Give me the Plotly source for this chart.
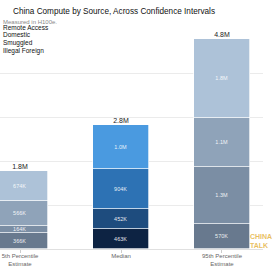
import plotly.graph_objects as go

categories = ["5th Percentile<br>Estimate", "Median", "95th Percentile<br>Estimate"]
series_names = ["Illegal Foreign", "Smuggled", "Domestic", "Remote Access"]
illegal_foreign = [366e3, 463e3, 570e3]
smuggled = [164e3, 452e3, 1.3e6]
domestic = [566e3, 904e3, 1.1e6]
remote_access = [674e3, 1.0e6, 1.8e6]
illegal_foreign_lbl = ["366K", "463K", "570K"]
smuggled_lbl = ["164K", "452K", "1.3M"]
domestic_lbl = ["566K", "904K", "1.1M"]
remote_access_lbl = ["674K", "1.0M", "1.8M"]
total_lbl = ["1.8M", "2.8M", "4.8M"]
legend_title = "Measured in H100e."
legend_items = ["Remote Access", "Domestic", "Smuggled", "Illegal Foreign"]

values = [illegal_foreign, smuggled, domestic, remote_access]
labels = [illegal_foreign_lbl, smuggled_lbl, domestic_lbl, remote_access_lbl]
gray_cols = ["#68798e", "#7b8ea4", "#8fa3b9", "#adc2d8"]
blue_cols = ["#0d2343", "#1e4c7e", "#2d72b4", "#4a9ae0"]

x = list(range(len(categories)))
fig = go.Figure()
for i, name in enumerate(series_names):
    cols = [gray_cols[i], blue_cols[i], gray_cols[i]]
    fig.add_trace(go.Bar(
        x=x, y=values[i], name=name, width=0.55,
        marker=dict(color=cols, line=dict(color="white", width=0.7)),
        text=labels[i], textposition="inside", insidetextanchor="middle",
        textfont=dict(color="rgba(255,255,255,0.9)", size=5.5, family="Liberation Sans"),
        constraintext="none", showlegend=False, hoverinfo="skip",
    ))

totals = [sum(v[j] for v in values) for j in range(len(categories))]
fig.add_trace(go.Scatter(
    x=x, y=totals, mode="text", text=total_lbl, textposition="top center",
    textfont=dict(color="#222222", size=7, family="Liberation Sans"),
    showlegend=False, hoverinfo="skip",
))

ann = [dict(text=legend_title, xref="paper", yref="paper", x=1/263, y=1 + 7/220,
            xanchor="left", yanchor="middle", showarrow=False,
            font=dict(size=6, color="#888", family="Liberation Sans"))]
for k, it in enumerate(legend_items):
    ann.append(dict(text=it, xref="paper", yref="paper", x=1/263,
                    y=1 - (k * 8 - 2) / 220, xanchor="left", yanchor="middle",
                    showarrow=False, font=dict(size=6.5, color="#111", family="Liberation Sans")))
ann.append(dict(text="<b>CHINA</b><br><b>TALK</b>", xref="paper", yref="paper",
                x=248 / 263, y=-(241 - 249) / 220, xanchor="left", yanchor="middle",
                showarrow=False, align="left",
                font=dict(size=7, color="rgba(228,180,70,0.85)", family="Liberation Sans")))

fig.update_layout(
    width=280, height=280,
    margin=dict(l=0, r=17, t=29, b=31, autoexpand=False),
    paper_bgcolor="white", plot_bgcolor="white",
    barmode="stack", bargap=0,
    title=dict(text="China Compute by Source, Across Confidence Intervals",
               x=114/280, xanchor="center", y=1 - 11.5/280, yanchor="middle",
               font=dict(size=8.2, color="#111", family="Liberation Sans")),
    annotations=ann,
    xaxis=dict(range=[-0.198, 2.406], tickvals=x, ticktext=categories,
               tickfont=dict(size=6, color="#666", family="Liberation Sans"),
               ticks="outside", ticklen=3, tickcolor="#ccc", ticklabelstandoff=-2,
               showline=True, linecolor="#e0e0e0", linewidth=1, showgrid=False,
               fixedrange=True),
    yaxis=dict(range=[0, 5e6], dtick=1e6, showgrid=True, gridcolor="#ebebeb",
               gridwidth=1, showticklabels=False, zeroline=False, fixedrange=True),
)
fig.write_html("out.html")
